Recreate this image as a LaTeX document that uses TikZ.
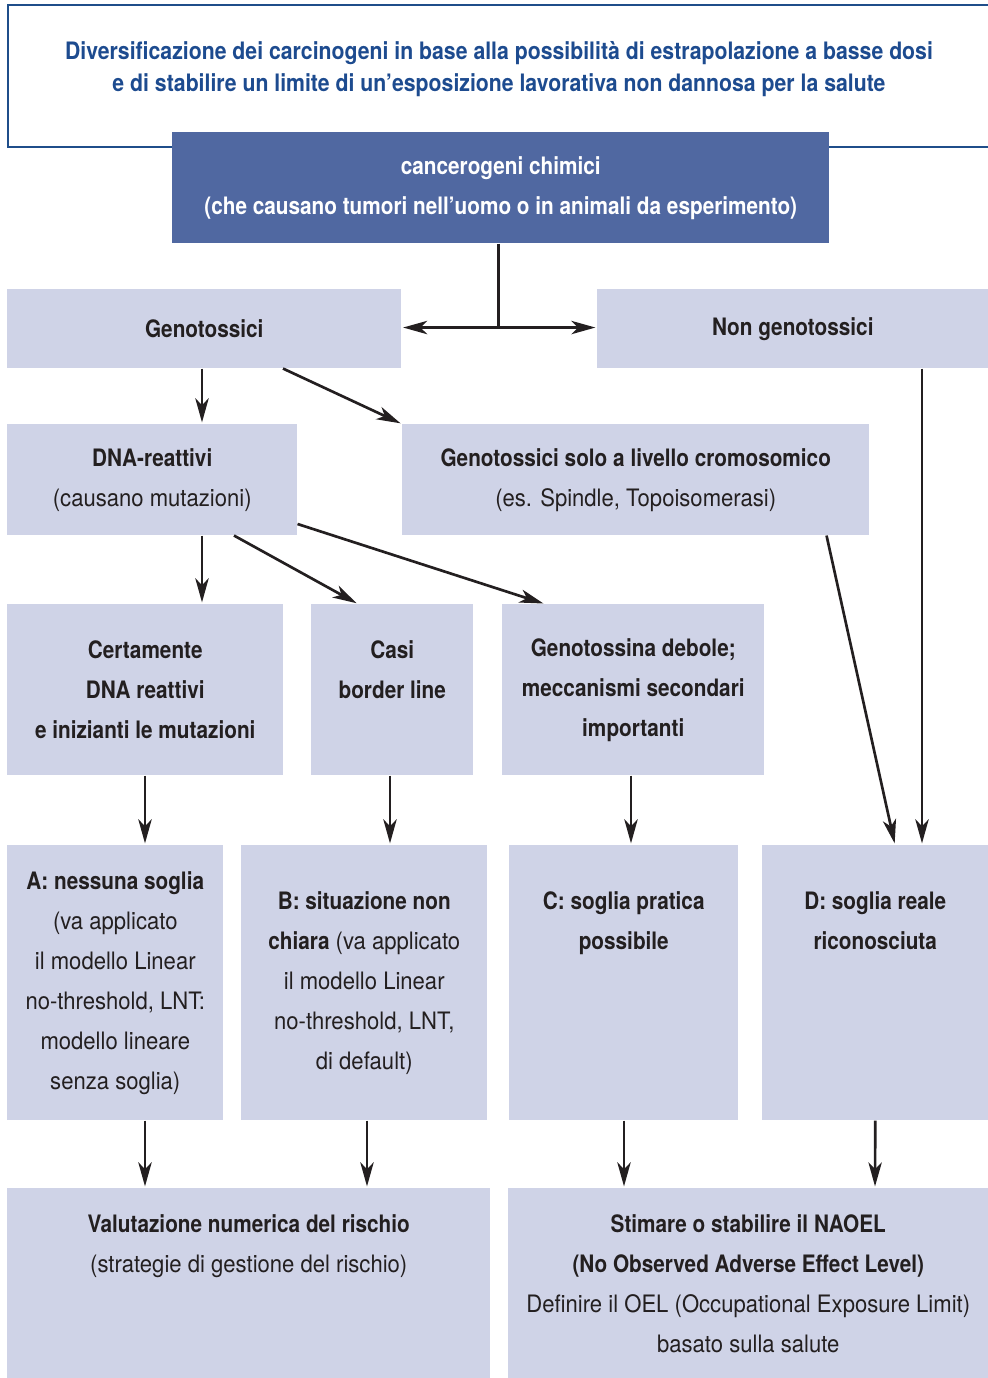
\documentclass[tikz,border=0pt]{standalone}
\usepackage{fontspec}
\setmainfont{TeX Gyre Heros}[UprightFeatures={FakeStretch=0.92}, BoldFeatures={FakeStretch=0.865}]
\newfontfamily\titlefont{TeX Gyre Heros}[FakeStretch=0.885]
\usetikzlibrary{arrows.meta,calc}
\definecolor{boxfill}{HTML}{CFD3E7}
\definecolor{darkfill}{HTML}{5068A1}
\definecolor{titleblue}{HTML}{1D4B8F}
\definecolor{frameblue}{HTML}{1F4E8A}
\definecolor{ink}{HTML}{231F20}
\tikzset{
  box/.style={fill=boxfill, draw=none, anchor=north west, align=center, inner sep=0pt, text=ink,
    font=\fontsize{18}{30}\selectfont},
  darkbox/.style={box, fill=darkfill, text=white},
  arr/.style={draw=ink, line width=2pt, -{Stealth[length=18pt, width=10pt, inset=5pt]}, shorten >=1.2pt},
  plain/.style={draw=ink, line width=2pt},
}
\begin{document}
\begin{tikzpicture}[x=0.75pt, y=-0.75pt]
\useasboundingbox (0,0) rectangle (988,1378);
% top frame
\draw[frameblue, line width=1.6pt] (988,5) -- (8,5) -- (8,147) -- (988,147);
\node[align=center, text=titleblue, font=\titlefont\fontsize{18}{24}\selectfont\bfseries] (title) at (499,69)
  {Diversificazione dei carcinogeni in base alla possibilità di estrapolazione a basse dosi\\
   e di stabilire un limite di un’esposizione lavorativa non dannosa per la salute};
% boxes
\node[darkbox, minimum width={657*0.75pt}, minimum height={111*0.75pt}, font=\fontsize{18}{30}\selectfont\bfseries] (cc) at (172,132)
  {cancerogeni chimici\\(che causano tumori nell’uomo o in animali da esperimento)};
\node[box, minimum width={394*0.75pt}, minimum height={79*0.75pt}] (geno) at (7,289) {\bfseries Genotossici};
\node[box, minimum width={391*0.75pt}, minimum height={79*0.75pt}] (nongeno) at (597,289) {\bfseries Non genotossici};
\node[box, minimum width={290*0.75pt}, minimum height={111*0.75pt}] (dna) at (7,424) {\bfseries DNA-reattivi\\(causano mutazioni)};
\node[box, minimum width={467*0.75pt}, minimum height={111*0.75pt}] (solo) at (402,424) {\bfseries Genotossici solo a livello cromosomico\\(es. Spindle, Topoisomerasi)};
\node[box, minimum width={276*0.75pt}, minimum height={171*0.75pt}] (cert) at (7,604) {\bfseries Certamente\\\bfseries DNA reattivi\\\bfseries e inizianti le mutazioni};
\node[box, minimum width={162*0.75pt}, minimum height={171*0.75pt}] (casi) at (311,604) {\bfseries Casi\\\bfseries border line\\\mbox{}};
\node[box, minimum width={262*0.75pt}, minimum height={171*0.75pt}] (deb) at (502,604) {\bfseries Genotossina debole;\\\bfseries meccanismi secondari\\\bfseries importanti};
\node[box, minimum width={216*0.75pt}, minimum height={275*0.75pt}] (A) at (7,845)
  {\textbf{A: nessuna soglia}\\(va applicato\\il modello Linear\\no-threshold, LNT:\\modello lineare\\senza soglia)};
\node[box, minimum width={246*0.75pt}, minimum height={275*0.75pt}] (B) at (241,845)
  {\textbf{B: situazione non}\\\textbf{chiara} (va applicato\\il modello Linear\\no-threshold, LNT,\\di default)};
\node[box, minimum width={229*0.75pt}, minimum height={275*0.75pt}] (C) at (509,845)
  {\textbf{C: soglia pratica}\\\textbf{possibile}\\\mbox{}\\\mbox{}\\\vphantom{)}};
\node[box, minimum width={226*0.75pt}, minimum height={275*0.75pt}] (D) at (762,845)
  {\textbf{D: soglia reale}\\\textbf{riconosciuta}\\\mbox{}\\\mbox{}\\\vphantom{)}};
\node[box, minimum width={483*0.75pt}, minimum height={190*0.75pt}] (val) at (7,1188)
  {\textbf{Valutazione numerica del rischio}\\(strategie di gestione del rischio)\\\mbox{}\\\mbox{}};
\node[box, minimum width={480*0.75pt}, minimum height={190*0.75pt}] (st) at (508,1188)
  {\textbf{Stimare o stabilire il NAOEL}\\\textbf{(No Observed Adverse Effect Level)}\\Definire il OEL (Occupational Exposure Limit)\\basato sulla salute};
% connectors
\coordinate (j) at ($(cc.south)+(-2,84)$);
\draw[plain] (cc.south -| j) -- (j);
\draw[arr] (j) -- (j -| geno.east);
\draw[arr] (j) -- (nongeno.west |- j);
\draw[arr] ($(geno.south west)+(195,0)$) -- ($(dna.north west)+(195,0)$);
\draw[arr] ($(geno.south west)+(276,0)$) -- (solo.north west);
\draw[arr] ($(dna.south west)+(195,0)$) -- ($(cert.north west)+(195,0)$);
\draw[arr] ($(dna.south west)+(227,0)$) -- ($(casi.north west)+(47,0)$);
\draw[arr] ($(dna.north east)+(0,100)$) -- ($(deb.north west)+(43,0)$);
\draw[arr] ($(solo.south east)+(-43,0)$) -- ($(D.north west)+(133,0)$);
\draw[arr] ($(nongeno.south west)+(325,0)$) -- ($(D.north west)+(160,0)$);
\draw[arr] ($(cert.south west)+(138,0)$) -- ($(A.north west)+(138,0)$);
\draw[arr] ($(casi.south west)+(79,0)$) -- ($(B.north west)+(149,0)$);
\draw[arr] ($(deb.south west)+(129,0)$) -- ($(C.north west)+(122,0)$);
\draw[arr] ($(A.south west)+(138,0)$) -- ($(val.north west)+(138,0)$);
\draw[arr] ($(B.south west)+(126,0)$) -- ($(val.north west)+(360,0)$);
\draw[arr] ($(C.south west)+(115,0)$) -- ($(st.north west)+(116,0)$);
\draw[arr] (D.south) -- ($(st.north west)+(367,0)$);
\end{tikzpicture}
\end{document}
